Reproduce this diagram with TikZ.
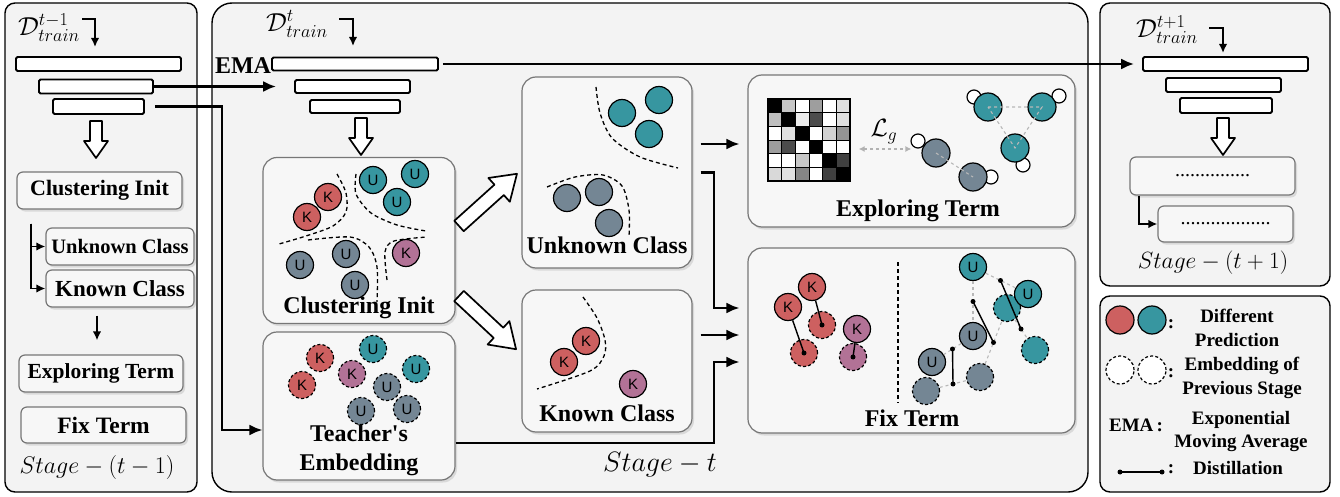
\RequirePackage{fix-cm}
\documentclass[tikz,border=0pt]{standalone}
\usepackage[no-math]{fontspec}
\setmainfont{Liberation Serif}
\newfontfamily\lblfont{Liberation Sans}
\usetikzlibrary{positioning,arrows.meta,shadows,calc}

\definecolor{kred}{RGB}{205,96,96}
\definecolor{uteal}{RGB}{55,150,160}
\definecolor{ugray}{RGB}{116,134,148}
\definecolor{kpurp}{RGB}{178,114,150}
\definecolor{panelbg}{RGB}{243,243,243}
\definecolor{boxbg}{RGB}{247,247,247}
\definecolor{boxline}{RGB}{118,118,118}

\newcommand{\tfont}[1]{\fontsize{#1}{#1}\selectfont\bfseries}
% tail, angle, length, shaft half width, head half width, head length
\newcommand{\hollowarrow}[6]{%
  \draw[hollow, shift={(#1)}, rotate=#2] (0,-#4) -- ({#3-#6},-#4) -- ({#3-#6},-#5)
    -- (#3,0) -- ({#3-#6},#5) -- ({#3-#6},#4) -- (0,#4) -- cycle;}

\tikzset{
  panel/.style={draw=black, line width=1.4pt, fill=panelbg},
  inbox/.style={draw=boxline, line width=1.2pt, rounded corners=6pt, fill=boxbg, inner sep=0pt,
    drop shadow={shadow xshift=2pt, shadow yshift=-2.5pt, opacity=0.22}},
  bar/.style={draw=black, line width=1.9pt, fill=white, inner sep=0pt, rounded corners=1.5pt},
  conn/.style={line width=2.2pt, -{Latex[length=13pt,width=11pt]}},
  sconn/.style={line width=1.9pt, -{Latex[length=9pt,width=8.5pt]}},
  hollow/.style={draw=black, line width=1.7pt, fill=white, line join=round},
  title/.style={font=\tfont{24}, inner sep=1pt, align=center},
  blob/.style={circle, draw=black, line width=1.2pt, minimum size=27pt, inner sep=0pt,
    font=\lblfont\fontsize{15}{15}\selectfont},
  kr/.style={blob, fill=kred},
  ut/.style={blob, fill=uteal},
  ug/.style={blob, fill=ugray},
  kp/.style={blob, fill=kpurp},
  prevemb/.style={dash pattern=on 3pt off 2.2pt},
  sepline/.style={line width=1.3pt, dash pattern=on 4pt off 3pt},
  graphline/.style={draw=black!28, line width=1.1pt, dash pattern=on 3pt off 3pt},
  distil/.style={line width=1.4pt},
  loopst/.style={draw=black, line width=1.2pt, fill=white},
  legtext/.style={font=\fontsize{19}{24}\selectfont\bfseries, align=center, inner sep=1pt},
  dlabel/.style={font=\fontsize{26}{26}\selectfont, inner sep=0pt},
}

\begin{document}
\begin{tikzpicture}[x=1pt,y=-1pt]
\useasboundingbox (0,0) rectangle (1340,497);

% stage panels
\draw[panel, rounded corners=10pt] (5,3) rectangle (197,492);
\draw[panel, rounded corners=20pt] (212,3) rectangle (1088,492);
\draw[panel, rounded corners=10pt] (1100,3) rectangle (1330,286);
\draw[panel, rounded corners=10pt] (1100,296) rectangle (1330,492);

%% stage t-1
\node[dlabel] (dl) at (49,28) {$\mathcal{D}^{t-1}_{train}$};
\coordinate (lout) at (82,19);
\coordinate (lin) at (95,47);
\draw[sconn] (lout) -| (lin);
\node[bar, minimum width=165pt, minimum height=14pt] (lb1) at (98.5,64) {};
\node[bar, minimum width=114pt, minimum height=14pt] (lb2) at (96,86.5) {};
\node[bar, minimum width=91pt, minimum height=15pt] (lb3) at (98.5,106.5) {};
\hollowarrow{96,121}{-90}{37}{6}{12}{17}
\node[inbox, minimum width=165pt, minimum height=37pt, font=\tfont{22}] (lci) at (99.5,190.5) {Clustering Init};
\node[inbox, minimum width=148pt, minimum height=37pt, font=\tfont{20.5}] (luc) at (120,246.5) {Unknown Class};
\node[inbox, minimum width=148pt, minimum height=37pt, font=\tfont{23}] (lkc) at (120,288.5) {Known Class};
\node[inbox, minimum width=164pt, minimum height=37pt, font=\tfont{21.5}] (lex) at (101,373.5) {Exploring Term};
\node[inbox, minimum width=165pt, minimum height=36pt, font=\tfont{23.5}] (lfx) at (103.5,425) {Fix Term};
\node[font=\fontsize{24}{24}\selectfont] (lst) at (97,467) {$Stage-(t-1)$};
\draw[sconn] ($(lci.south -| 31,0)+(0,14)$) |- (luc.west);
\draw[sconn] ($(lci.south -| 31,0)+(0,14)$) |- (lkc.west);
\draw[sconn] ($(lkc.south -| 97,0)+(0,8)$) -- ($(lex.north -| 97,0)+(0,-14)$);

%% stage t
\node[dlabel] (dm) at (297,24) {$\mathcal{D}^{t}_{train}$};
\coordinate (mout) at (339,19);
\coordinate (min) at (353,46);
\draw[sconn] (mout) -| (min);
\node[font=\tfont{24}] (ema) at (243,66) {EMA};
\node[bar, minimum width=166pt, minimum height=13pt] (mb1) at (355,64) {};
\node[bar, minimum width=115pt, minimum height=13pt] (mb2) at (352.5,86.5) {};
\node[bar, minimum width=90pt, minimum height=13pt] (mb3) at (355,106.5) {};
\hollowarrow{361,118}{-90}{37}{6}{12}{17}

\node[inbox, rounded corners=14pt, minimum width=192pt, minimum height=166pt] (mci) at (359,240.5) {};
\node[inbox, rounded corners=14pt, minimum width=192pt, minimum height=148pt] (mte) at (359,406) {};
\node[inbox, rounded corners=14pt, minimum width=170pt, minimum height=191pt] (muc) at (607,172.5) {};
\node[inbox, rounded corners=14pt, minimum width=170pt, minimum height=142pt] (mkc) at (607,361) {};
\node[inbox, rounded corners=14pt, minimum width=327pt, minimum height=152pt] (mex) at (911.5,151) {};
\node[inbox, rounded corners=14pt, minimum width=327pt, minimum height=185pt] (mfx) at (911.5,340.5) {};

\hollowarrow{459,226}{42}{78}{7}{16}{24}
\hollowarrow{459,296}{-43}{78}{7}{16}{24}

% clustering init
\draw[sepline] plot[smooth] coordinates {(337,174) (346,193) (346,212) (333,226) (306,236) (279,244)};
\draw[sepline] plot[smooth] coordinates {(356,174) (356,194) (371,213) (397,225) (426,231)};
\draw[sepline] plot[smooth] coordinates {(308,240) (350,237) (369,247) (377,267) (377,302)};
\draw[sepline] plot[smooth] coordinates {(387,280) (385,252) (394,241) (427,237)};
\node[kr] (ck1) at (328,197) {K};
\node[kr] (ck2) at (307,217) {K};
\node[ut] (cu1) at (373,180) {U};
\node[ut] (cu2) at (415,174) {U};
\node[ut] (cu3) at (397,202) {U};
\node[ug] (cg1) at (300,265) {U};
\node[ug] (cg2) at (346,254) {U};
\node[ug] (cg3) at (355,285) {U};
\node[kp] (cp1) at (406,253) {K};
\node[title] (tci) at (359,308) {Clustering Init};

% teacher's embedding
\node[kr, prevemb] (tk1) at (320,358) {K};
\node[kr, prevemb] (tk2) at (302,385) {K};
\node[kp, prevemb] (tp1) at (352,374) {K};
\node[ut, prevemb] (tu1) at (373,349) {U};
\node[ut, prevemb] (tu2) at (416,369) {U};
\node[ug, prevemb] (tg1) at (387,387) {U};
\node[ug, prevemb] (tg2) at (361,411) {U};
\node[ug, prevemb] (tg3) at (407,409) {U};
\node[title, font=\fontsize{24}{29}\selectfont\bfseries] (tte) at (359,450) {Teacher\textquotesingle s\\Embedding};

% unknown class
\draw[sepline] plot[smooth] coordinates {(596,87) (600,113) (612,138) (640,157) (678,168)};
\draw[sepline] plot[smooth] coordinates {(547,187) (575,177) (603,175) (622,186) (629,210) (629,237)};
\node[ut] (uu1) at (622,113) {};
\node[ut] (uu2) at (659,100) {};
\node[ut] (uu3) at (649,134) {};
\node[ug] (ug1) at (567,198) {};
\node[ug] (ug2) at (599,192) {};
\node[ug] (ug3) at (609,223) {};
\node[title] (tuc) at (607,245) {Unknown Class};

% known class
\draw[sepline] plot[smooth] coordinates {(583,297) (597,318) (605,340) (604,356) (590,371) (537,389)};
\node[kr] (kk1) at (586,341) {K};
\node[kr] (kk2) at (564,362) {K};
\node[kp] (kp1) at (633,384) {K};
\node[title] (tkc) at (607,413) {Known Class};

% exploring term
\foreach \vals [count=\r] in {{100,22,0,38,0,12},{25,100,8,70,0,12},{0,12,100,0,18,42},{38,70,0,100,0,0},{0,0,22,0,100,75},{15,12,48,0,75,100}}
  \foreach \v [count=\c] in \vals
    \fill[black!\v] ({768+(\c-1)*13.67},{99+(\r-1)*13.67}) rectangle ++(13.67,13.67);
\foreach \i in {1,...,5} {
  \draw[line width=0.9pt] ({768+\i*13.67},99) -- ++(0,82);
  \draw[line width=0.9pt] (768,{99+\i*13.67}) -- ++(82,0);
}
\node[draw, line width=1.3pt, minimum size=82pt, inner sep=0pt] (mat) at (809,140) {};
\foreach \x/\y in {974/97,1059/96,1023/165,918/141,991/177}
  \draw[loopst] (\x,\y) circle (7pt);
\node[ug, minimum size=28pt] (eg1) at (936,153) {};
\node[ug, minimum size=28pt] (eg2) at (973,177) {};
\node[ut, minimum size=28pt] (et1) at (988,107) {};
\node[ut, minimum size=28pt] (et2) at (1042,107) {};
\node[ut, minimum size=28pt] (et3) at (1015,148) {};
\draw[graphline] (et1.center) -- (et2.center) -- (et3.center) -- cycle;
\draw[graphline] (eg1.center) -- (eg2.center);
\node[font=\fontsize{25}{25}\selectfont] (lg) at (884,132) {$\mathcal{L}_g$};
\draw[graphline, draw=black!30, line width=1.6pt, {Latex[length=6pt,width=6pt]}-{Latex[length=6pt,width=6pt]}]
  ([xshift=8pt,yshift=-9pt]mat.east) -- ([xshift=-10pt,yshift=4pt]eg1.west);
\node[title] (tex) at (918,211) {Exploring Term};

% fix term
\draw[sepline] (898,262) -- (898,403);
\node[kr, prevemb] (fkd1) at (822,325) {};
\node[kr, prevemb] (fkd2) at (804,353) {};
\node[kp, prevemb] (fpd) at (853,357) {};
\node[kr] (fk1) at (812,287) {K};
\node[kr] (fk2) at (788,307) {K};
\node[kp] (fp1) at (857,329) {K};
\draw[distil] (fk1) -- (fkd1.center);
\draw[distil] (fk2) -- (fkd2.center);
\draw[distil] (fp1) -- (fpd.center);
\fill (fkd1.center) circle (2.5pt);
\fill (fkd2.center) circle (2.5pt);
\fill (fpd.center) circle (2.5pt);

\node[ut, prevemb] (fd1) at (1007,308) {};
\node[ut, prevemb] (fd2) at (1035,350) {};
\node[ug, prevemb] (fgd1) at (926,391) {};
\node[ug, prevemb] (fgd2) at (980,377) {};
\node[ut] (fu1) at (973,267) {U};
\node[ut] (fu2) at (1028,294) {U};
\node[ug] (fg1) at (973,336) {U};
\node[ug] (fg2) at (932,362) {U};
\draw[graphline] (fu1) -- (fu2);
\draw[graphline] (fu1) -- (fg1);
\draw[graphline] (fg1) -- (fg2);
\draw[graphline] (fd1) -- (fd2);
\draw[graphline] (fgd2) -- (fd1);
\draw[graphline] (fgd1) -- (fgd2);
\coordinate (ea) at ($(fg2)!0.5!(fg1)$);
\coordinate (eb) at ($(fgd1)!0.5!(fgd2)$);
\coordinate (ec) at ($(fu1)!0.5!(fg1)$);
\coordinate (ed) at ($(fgd2)!0.5!(fd1)$);
\coordinate (ee) at ($(fu1)!0.5!(fu2)$);
\coordinate (ef) at ($(fd1)!0.5!(fd2)$);
\draw[distil] (ea) -- (eb);
\draw[distil] (ec) -- (ed);
\draw[distil] (ee) -- (ef);
\foreach \p in {ea,eb,ec,ed,ee,ef}
  \fill (\p) circle (2.5pt);
\node[title] (tfx) at (912,418) {Fix Term};

\node[font=\fontsize{28}{28}\selectfont] (mst) at (660,465) {$Stage-t$};

% connectors of stage t
\draw[conn] (lb2.east) -- ([xshift=-18pt]mb2.west);
\draw[conn] ([xshift=10pt]lb3.east) -- (222,106.5) |- ($(mte.west)+(0,24)$);
\draw[conn] ($(muc.east)+(8,-28.5)$) -- ($(mex.west)+(-8,-7)$);
\draw[conn] ($(muc.east)+(8,0)$) -- ++(13,0) |- ($(mfx.west)+(-8,-32.5)$);
\draw[conn] ($(mkc.east)+(8,-26)$) -- ($(mfx.west)+(-8,-5.5)$);
\draw[conn] ($(mte.east)+(0,37)$) -- ++(258,0) |- ($(mfx.west)+(-8,21.5)$);

%% stage t+1
\node[dlabel] (dr) at (1167,30) {$\mathcal{D}^{t+1}_{train}$};
\coordinate (rout) at (1209,28);
\coordinate (rin) at (1223,53);
\draw[sconn] (rout) -| (rin);
\node[bar, minimum width=165pt, minimum height=14pt] (rb1) at (1225.5,64) {};
\node[bar, minimum width=115pt, minimum height=14pt] (rb2) at (1223.5,85) {};
\node[bar, minimum width=92pt, minimum height=15pt] (rb3) at (1226,105.5) {};
\draw[conn] ([xshift=4pt]mb1.east) -- ([xshift=-8pt]rb1.west);
\hollowarrow{1223,118}{-90}{37}{6}{12}{17}
\node[inbox, minimum width=165pt, minimum height=38pt, font=\fontsize{20}{20}\selectfont] (rbx1) at (1212.5,176) {...............};
\node[inbox, minimum width=135pt, minimum height=36pt, font=\fontsize{20}{20}\selectfont] (rbx2) at (1225.5,224) {..................};
\draw[sconn] ([xshift=10pt]rbx1.south west) |- (rbx2.west);
\node[font=\fontsize{23.5}{23.5}\selectfont] (rst) at (1213,263) {$Stage-(t+1)$};

%% legend
\node[kr, minimum size=28pt] (lgr) at (1120,320) {};
\node[ut, minimum size=28pt] (lgt) at (1152,320) {};
\node[legtext] (lc1) at (1171,324) {:};
\node[legtext] (lt1) at (1237,328) {Different\\Prediction};
\node[blob, fill=white, prevemb, minimum size=28pt] (lgd1) at (1120,370) {};
\node[blob, fill=white, prevemb, minimum size=28pt] (lgd2) at (1152,370) {};
\node[legtext] (lc2) at (1171,373) {:};
\node[legtext] (lt2) at (1242,378) {Embedding of\\Previous Stage};
\node[legtext] (lema) at (1136,425) {EMA\,:};
\node[legtext, font=\fontsize{19}{23}\selectfont\bfseries] (lt3) at (1241,432) {Exponential\\Moving Average};
\coordinate (ds1) at (1120,472);
\coordinate (ds2) at (1162,472);
\draw[distil] (ds1) -- (ds2);
\fill (ds1) circle (2.5pt);
\fill (ds2) circle (2.5pt);
\node[legtext] (lc4) at (1171,469) {:};
\node[legtext] (lt4) at (1238,468) {Distillation};
\end{tikzpicture}
\end{document}
